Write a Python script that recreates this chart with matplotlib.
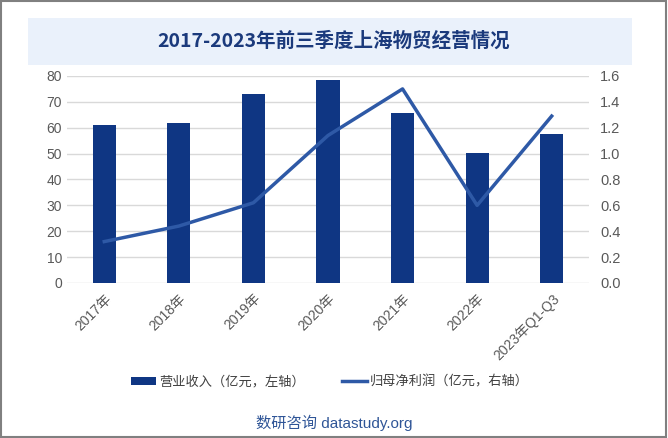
import matplotlib
matplotlib.use("Agg")
import matplotlib.pyplot as plt
from matplotlib.patches import Rectangle, Patch
from matplotlib.lines import Line2D

plt.rcParams["font.family"] = ["Noto Sans CJK SC", "DejaVu Sans"]
latin_first = ["Liberation Sans", "Noto Sans CJK SC"]

years = ["2017年", "2018年", "2019年", "2020年", "2021年", "2022年", "2023年Q1-Q3"]
revenue = [61.1, 61.9, 73.1, 78.5, 65.7, 50.3, 57.6]
net_profit = [0.32, 0.44, 0.62, 1.14, 1.50, 0.60, 1.29]

bar_color = "#0F3683"
line_color = "#2E59A6"
tick_color = "#595959"

fig = plt.figure(figsize=(6.68, 4.38), dpi=100)

# 外框 + 标题底色
fig.patches.append(Rectangle((0.0015, 0.002), 0.996, 0.995, transform=fig.transFigure,
                             fill=False, edgecolor="#808080", lw=1.5))
fig.patches.append(Rectangle((0.042, 0.851), 0.904, 0.108, transform=fig.transFigure,
                             facecolor="#EAF1FB", edgecolor="none"))
fig.text(0.5, 0.906, "2017-2023年前三季度上海物贸经营情况", ha="center", va="center",
         fontsize=14, fontweight="bold", color="#1B3A7C")

ax = fig.add_axes([0.1003, 0.3539, 0.7814, 0.4726])
x = range(len(years))
ax.bar(x, revenue, width=0.31, color=bar_color, zorder=2)
ax.set_ylim(0, 80)
ax.set_yticks(range(0, 81, 10))
ax.set_xlim(-0.5, len(years) - 0.5)
ax.set_xticks(list(x))
ax.set_xticklabels(years, rotation=45, ha="right", rotation_mode="anchor")
ax.grid(axis="y", color="#D9D9D9", lw=1, zorder=0)
for s in ax.spines.values():
    s.set_visible(False)
ax.tick_params(length=0, colors=tick_color, labelsize=10)
ax.tick_params(axis="x", pad=6)

ax2 = ax.twinx()
ax2.plot(x, net_profit, color=line_color, lw=2.5, zorder=3)
ax2.set_ylim(0, 1.6)
ax2.set_yticks([i * 0.2 for i in range(9)])
ax2.set_yticklabels([f"{i * 0.2:.1f}" for i in range(9)])
for s in ax2.spines.values():
    s.set_visible(False)
ax2.tick_params(length=0, colors=tick_color, labelsize=10.5, pad=8)

for lbl in ax.get_xticklabels() + ax.get_yticklabels() + ax2.get_yticklabels():
    lbl.set_family(latin_first)

handles = [Patch(facecolor=bar_color, label="营业收入（亿元，左轴）"),
           Line2D([0], [0], color=line_color, lw=2.5, label="归母净利润（亿元，右轴）")]
fig.legend(handles=handles, loc="center", bbox_to_anchor=(0.494, 0.128), ncol=2,
           frameon=False, fontsize=9.5, labelcolor="#404040", columnspacing=2.8,
           handlelength=1.9, handleheight=0.6, handletextpad=0.25)

fig.text(0.5, 0.034, "数研咨询 datastudy.org", ha="center", va="center",
         fontsize=11, color="#2F5597", family=latin_first)

fig.savefig("out.png", dpi=100)
